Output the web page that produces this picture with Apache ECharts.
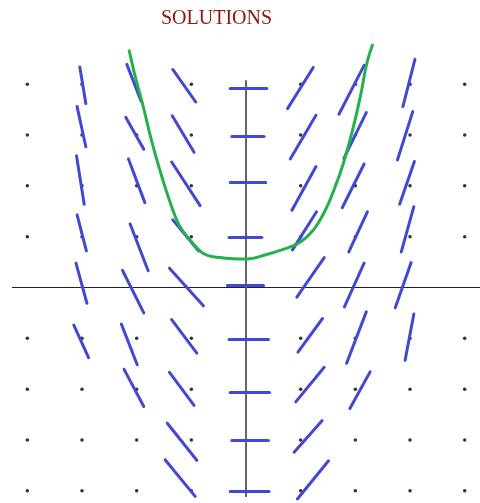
<!DOCTYPE html>
<html>
<head>
<meta charset="utf-8">
<script src="https://cdn.jsdelivr.net/npm/echarts@6/dist/echarts.min.js"></script>
<style>
  html, body { margin: 0; padding: 0; background: #fff; }
  #chart { width: 480px; height: 503px; }
</style>
</head>
<body>
<div id="chart"></div>
<script>
// grid points of the slope field (integer x, y); the axes replace row/column 0
const gridXs = [-4, -3, -2, -1, 1, 2, 3, 4];
const gridYs = [-4, -3, -2, -1, 1, 2, 3, 4];

// slope marks: [x1, y1, x2, y2] in data units
const slopesLeft = [
  [-3.04, 4.34, -2.93, 3.62], [-3.09, 3.56, -2.93, 2.77], [-3.10, 2.59, -2.96, 1.64],
  [-3.09, 1.43, -2.92, 0.72], [-3.11, 0.48, -2.91, -0.31], [-3.15, -0.74, -2.88, -1.38],
  [-2.18, 4.39, -1.92, 3.67], [-2.20, 3.35, -1.87, 2.72], [-2.15, 2.53, -1.85, 1.67],
  [-2.12, 1.25, -1.79, 0.33], [-2.26, 0.34, -1.87, -0.50], [-2.28, -0.72, -1.99, -1.52],
  [-2.23, -1.61, -1.87, -2.34],
  [-1.34, 4.29, -0.92, 3.65], [-1.35, 3.38, -0.95, 2.66], [-1.36, 2.47, -0.84, 1.61],
  [-1.34, 1.33, -0.87, 0.72], [-1.40, 0.38, -0.78, -0.36], [-1.36, -0.63, -0.90, -1.29],
  [-1.40, -1.67, -0.95, -2.32], [-1.44, -2.67, -0.90, -3.40], [-1.48, -3.39, -0.93, -4.11]
];
const slopesMiddle = [
  [-0.29, 3.93, 0.38, 3.93], [-0.26, 2.98, 0.33, 2.98], [-0.29, 2.07, 0.36, 2.07],
  [-0.31, 0.98, 0.29, 0.98], [-0.34, 0.05, 0.32, 0.05], [-0.31, -1.02, 0.41, -1.02],
  [-0.29, -2.06, 0.43, -2.06], [-0.26, -3.00, 0.41, -3.00], [-0.29, -4.01, 0.42, -4.01]
];
const slopesRight = [
  [1.23, 4.33, 0.76, 3.52], [1.28, 3.39, 0.81, 2.53], [1.28, 2.38, 0.84, 1.52],
  [1.29, 1.49, 0.85, 0.74], [1.43, 0.59, 0.93, -0.19], [1.40, -0.61, 0.95, -1.27],
  [1.43, -1.57, 0.91, -2.25], [1.39, -2.62, 0.88, -3.24], [1.51, -3.41, 0.94, -4.16],
  [2.16, 4.37, 1.70, 3.41], [2.20, 3.44, 1.79, 2.54], [2.16, 2.43, 1.76, 1.57],
  [2.22, 1.49, 1.88, 0.70], [2.16, 0.48, 1.80, -0.38], [2.20, -0.48, 1.84, -1.49],
  [2.27, -1.66, 1.90, -2.38],
  [3.09, 4.49, 2.87, 3.56], [3.05, 3.46, 2.77, 2.51], [3.08, 2.48, 2.81, 1.64],
  [3.07, 1.59, 2.84, 0.70], [3.02, 0.49, 2.73, -0.40], [3.07, -0.52, 2.91, -1.43]
];

// the sketched solution curve
const solutionXs = [-2.14, -2.04, -1.88, -1.73, -1.56, -1.36, -1.21, -1.02, -0.78, -0.48, 0.01,
  0.38, 0.65, 0.96, 1.23, 1.45, 1.63, 1.78, 1.95, 2.09, 2.21, 2.32];
const solutionYs = [4.68, 4.21, 3.56, 2.90, 2.25, 1.59, 1.20, 0.93, 0.67, 0.59, 0.56,
  0.65, 0.74, 0.87, 1.13, 1.52, 1.98, 2.44, 3.10, 3.75, 4.41, 4.79];

// axes drawn as plain lines
const xAxisEnds = [[-4.28, 0], [4.28, 0]];
const yAxisEnds = [[0, 4.08], [0, -4.12]];

const dots = [];
gridXs.forEach(x => gridYs.forEach(y => dots.push([x, y])));

const segments = slopesLeft.concat(slopesMiddle, slopesRight)
  .map(s => ({ coords: [[s[0], s[1]], [s[2], s[3]]] }));

const chart = echarts.init(document.getElementById('chart'));
chart.setOption({
  animation: false,
  backgroundColor: '#ffffff',
  title: {
    text: 'SOLUTIONS',
    left: 156,
    top: 4,
    textStyle: {
      fontFamily: 'Liberation Serif',
      fontWeight: 'normal',
      fontSize: 20,
      color: '#8b1515'
    }
  },
  grid: { left: 0, right: 0, top: 40, bottom: 0 },
  xAxis: { type: 'value', min: -4.5, max: 4.28, show: false },
  yAxis: { type: 'value', min: -4.24, max: 4.87, show: false },
  series: [
    {
      type: 'lines',
      coordinateSystem: 'cartesian2d',
      z: 1,
      lineStyle: { color: '#222', width: 1.2, opacity: 1 },
      data: [{ coords: xAxisEnds }]
    },
    {
      type: 'lines',
      coordinateSystem: 'cartesian2d',
      z: 1,
      lineStyle: { color: '#666', width: 2, opacity: 1 },
      data: [{ coords: yAxisEnds }]
    },
    {
      type: 'scatter',
      z: 2,
      symbolSize: 3.5,
      itemStyle: { color: '#000' },
      data: dots
    },
    {
      type: 'lines',
      coordinateSystem: 'cartesian2d',
      z: 3,
      lineStyle: { color: '#4149d2', width: 3, opacity: 1, cap: 'round' },
      data: segments
    },
    {
      type: 'line',
      z: 4,
      smooth: 0.4,
      showSymbol: false,
      lineStyle: { color: '#22b14c', width: 3 },
      data: solutionXs.map((x, i) => [x, solutionYs[i]])
    }
  ]
});
</script>
</body>
</html>
